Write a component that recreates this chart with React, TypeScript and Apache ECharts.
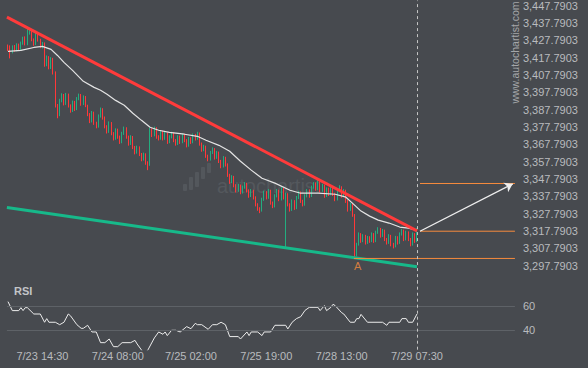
import React, { useEffect, useRef } from 'react';
import * as echarts from 'echarts';

// ---------- data ----------
const OFFSET = 7.7903; // price axis ticks sit at x.7903
const TOTAL_SLOTS = 236; // bars + empty projection area
const timeLabels = ['7/23 14:30', '7/24 08:00', '7/25 02:00', '7/25 19:00', '7/28 13:00', '7/29 07:30'];
const labelBars = [16, 51, 85, 120, 155, 190];
const lastBar = 190;

// [open, close, low, high]
const candles: number[][] = [
  [3424.5, 3422.5, 3421.5, 3425.3], [3424.0, 3421.0, 3417.3, 3424.8], [3421.0, 3424.0, 3420.2, 3424.8], [3424.0, 3422.0, 3421.2, 3425.0],
  [3422.0, 3425.0, 3421.4, 3426.0], [3425.0, 3422.5, 3421.6, 3425.8], [3422.5, 3426.0, 3421.8, 3427.0], [3426.0, 3429.0, 3425.2, 3429.8],
  [3429.0, 3425.5, 3424.8, 3430.0], [3425.5, 3432.0, 3424.9, 3434.6], [3432.0, 3433.0, 3431.0, 3434.2], [3433.0, 3428.0, 3427.2, 3433.8],
  [3428.0, 3425.5, 3424.6, 3428.8], [3425.5, 3431.0, 3425.0, 3432.2], [3431.0, 3428.0, 3427.0, 3431.8], [3428.0, 3424.0, 3423.2, 3428.6],
  [3424.0, 3426.0, 3423.0, 3426.8], [3426.0, 3413.5, 3412.5, 3426.5], [3413.5, 3418.0, 3412.8, 3419.0], [3418.0, 3412.0, 3411.0, 3418.6],
  [3412.0, 3417.0, 3411.2, 3418.0], [3417.0, 3409.0, 3408.0, 3417.6], [3409.0, 3390.0, 3389.0, 3409.8], [3390.0, 3384.5, 3382.8, 3391.0],
  [3384.5, 3393.0, 3384.0, 3394.0], [3393.0, 3396.0, 3392.0, 3397.2], [3396.0, 3391.0, 3390.2, 3396.8], [3391.0, 3396.5, 3390.5, 3397.4],
  [3396.5, 3390.0, 3389.0, 3397.0], [3390.0, 3387.0, 3386.0, 3390.8], [3387.0, 3392.0, 3386.4, 3393.0], [3392.0, 3388.0, 3387.0, 3392.8],
  [3388.0, 3394.0, 3387.5, 3395.0], [3394.0, 3396.0, 3393.2, 3397.0], [3396.0, 3391.0, 3390.0, 3396.8], [3391.0, 3395.0, 3390.4, 3396.0],
  [3395.0, 3390.0, 3389.2, 3395.6], [3390.0, 3385.0, 3384.0, 3390.6], [3385.0, 3381.0, 3380.0, 3385.8], [3381.0, 3386.0, 3380.4, 3387.0],
  [3386.0, 3380.0, 3379.0, 3386.6], [3380.0, 3378.0, 3377.0, 3380.8], [3378.0, 3384.0, 3377.4, 3385.0], [3384.0, 3388.0, 3383.2, 3389.0],
  [3388.0, 3383.0, 3382.0, 3388.6], [3383.0, 3378.0, 3377.0, 3383.8], [3378.0, 3375.0, 3374.0, 3378.8], [3375.0, 3380.0, 3374.4, 3381.0],
  [3380.0, 3374.0, 3373.0, 3380.6], [3374.0, 3371.0, 3370.0, 3374.8], [3371.0, 3376.0, 3370.4, 3377.0], [3376.0, 3372.0, 3371.0, 3376.8],
  [3372.0, 3369.0, 3368.0, 3372.8], [3369.0, 3374.0, 3368.4, 3375.0], [3374.0, 3377.0, 3373.2, 3378.0], [3377.0, 3372.0, 3371.0, 3377.6],
  [3372.0, 3368.0, 3367.0, 3372.8], [3368.0, 3372.0, 3367.4, 3373.0], [3372.0, 3366.0, 3365.0, 3372.6], [3366.0, 3363.0, 3362.0, 3366.8],
  [3363.0, 3366.0, 3362.4, 3367.0], [3366.0, 3362.0, 3361.0, 3366.6], [3362.0, 3359.0, 3358.0, 3362.8], [3359.0, 3362.0, 3358.4, 3363.0],
  [3362.0, 3357.0, 3356.0, 3362.6], [3357.0, 3356.0, 3352.9, 3358.0], [3356.0, 3376.0, 3355.4, 3377.4], [3376.0, 3373.0, 3372.0, 3377.0],
  [3373.0, 3377.0, 3372.4, 3378.0], [3377.0, 3372.0, 3371.0, 3377.6], [3372.0, 3371.0, 3370.0, 3373.0], [3371.0, 3375.0, 3370.4, 3376.0],
  [3375.0, 3371.0, 3370.0, 3375.6], [3371.0, 3374.0, 3370.4, 3375.0], [3374.0, 3369.0, 3368.0, 3374.6], [3369.0, 3372.0, 3368.4, 3373.0],
  [3372.0, 3374.0, 3371.2, 3375.0], [3374.0, 3370.0, 3369.0, 3374.6], [3370.0, 3368.0, 3367.0, 3370.8], [3368.0, 3372.0, 3367.4, 3373.0],
  [3372.0, 3369.0, 3368.0, 3372.8], [3369.0, 3373.0, 3368.4, 3374.0], [3373.0, 3370.0, 3369.0, 3373.8], [3370.0, 3367.0, 3366.0, 3370.8],
  [3367.0, 3371.0, 3366.4, 3372.0], [3371.0, 3369.0, 3368.0, 3371.8], [3369.0, 3373.0, 3368.4, 3374.0], [3373.0, 3371.0, 3370.0, 3373.8],
  [3371.0, 3374.0, 3370.4, 3375.0], [3374.0, 3368.0, 3367.0, 3374.6], [3368.0, 3364.5, 3363.5, 3368.8], [3364.5, 3366.5, 3363.8, 3367.5],
  [3366.5, 3361.0, 3360.0, 3367.0], [3361.0, 3359.0, 3358.0, 3361.8], [3359.0, 3363.0, 3358.4, 3364.0], [3363.0, 3365.0, 3362.2, 3366.0],
  [3365.0, 3360.0, 3359.0, 3365.6], [3360.0, 3363.0, 3359.4, 3364.0], [3363.0, 3358.0, 3357.0, 3363.6], [3358.0, 3355.0, 3354.0, 3358.8],
  [3355.0, 3360.0, 3354.4, 3361.0], [3360.0, 3356.0, 3355.0, 3360.6], [3356.0, 3350.0, 3349.0, 3356.8], [3350.0, 3346.0, 3345.0, 3350.8],
  [3346.0, 3349.0, 3345.4, 3350.0], [3349.0, 3344.0, 3343.0, 3349.6], [3344.0, 3341.0, 3340.0, 3344.8], [3341.0, 3344.0, 3340.4, 3345.0],
  [3344.0, 3340.0, 3339.0, 3344.6], [3340.0, 3343.0, 3339.4, 3344.0], [3343.0, 3345.0, 3342.2, 3346.0], [3345.0, 3341.0, 3340.0, 3345.6],
  [3341.0, 3338.0, 3337.0, 3341.8], [3338.0, 3341.0, 3337.4, 3342.0], [3341.0, 3337.0, 3336.0, 3341.6], [3337.0, 3333.0, 3332.0, 3337.8],
  [3333.0, 3330.5, 3329.5, 3333.8], [3330.5, 3329.5, 3328.1, 3331.5], [3329.5, 3336.0, 3329.0, 3337.0], [3336.0, 3340.0, 3335.2, 3341.0],
  [3340.0, 3337.0, 3336.0, 3340.8], [3337.0, 3341.0, 3336.4, 3342.0], [3341.0, 3334.0, 3333.0, 3341.6], [3334.0, 3332.0, 3331.0, 3334.8],
  [3332.0, 3338.0, 3331.4, 3339.0], [3338.0, 3341.0, 3337.2, 3342.0], [3341.0, 3336.0, 3335.0, 3341.6], [3336.0, 3342.0, 3335.4, 3343.0],
  [3342.0, 3337.0, 3336.0, 3342.6], [3337.0, 3339.0, 3308.6, 3340.0], [3339.0, 3333.0, 3332.0, 3339.6], [3333.0, 3330.0, 3329.0, 3333.8],
  [3330.0, 3335.0, 3329.4, 3336.0], [3335.0, 3331.0, 3330.0, 3335.6], [3331.0, 3337.0, 3330.4, 3338.0], [3337.0, 3340.0, 3336.2, 3341.0],
  [3340.0, 3335.0, 3334.0, 3340.6], [3335.0, 3333.0, 3332.0, 3335.8], [3333.0, 3338.0, 3332.4, 3339.0], [3338.0, 3341.0, 3337.2, 3342.0],
  [3341.0, 3338.0, 3337.0, 3341.8], [3338.0, 3343.0, 3337.4, 3344.0], [3343.0, 3345.0, 3342.2, 3346.0], [3345.0, 3342.0, 3341.0, 3345.8],
  [3342.0, 3346.0, 3341.4, 3347.2], [3346.0, 3341.0, 3340.0, 3346.6], [3341.0, 3344.0, 3340.4, 3345.0], [3344.0, 3338.0, 3337.0, 3344.6],
  [3338.0, 3342.0, 3337.4, 3343.0], [3342.0, 3339.0, 3338.0, 3342.8], [3339.0, 3343.0, 3338.4, 3344.0], [3343.0, 3339.0, 3338.0, 3343.6],
  [3339.0, 3336.0, 3335.0, 3339.8], [3336.0, 3341.0, 3335.4, 3342.0], [3341.0, 3343.0, 3340.2, 3344.2], [3343.0, 3338.0, 3337.0, 3343.6],
  [3338.0, 3341.0, 3337.4, 3342.0], [3341.0, 3335.0, 3334.0, 3341.6], [3335.0, 3330.0, 3329.0, 3335.8], [3330.0, 3333.0, 3329.4, 3334.0],
  [3333.0, 3327.0, 3326.0, 3333.6], [3327.0, 3304.0, 3302.0, 3327.6], [3304.0, 3310.0, 3303.2, 3311.0], [3310.0, 3316.0, 3309.4, 3317.0],
  [3316.0, 3312.0, 3311.0, 3316.6], [3312.0, 3315.0, 3311.4, 3316.0], [3315.0, 3311.0, 3310.0, 3315.6], [3311.0, 3314.0, 3310.4, 3315.0],
  [3314.0, 3312.0, 3311.0, 3314.8], [3312.0, 3316.0, 3311.4, 3317.0], [3316.0, 3312.0, 3311.0, 3316.6], [3312.0, 3317.0, 3311.4, 3318.0],
  [3317.0, 3319.0, 3316.2, 3320.0], [3319.0, 3315.0, 3314.0, 3319.6], [3315.0, 3318.0, 3314.4, 3319.0], [3318.0, 3313.0, 3312.0, 3318.6],
  [3313.0, 3311.0, 3310.0, 3313.8], [3311.0, 3315.0, 3310.4, 3316.0], [3315.0, 3310.0, 3309.0, 3315.6], [3310.0, 3309.0, 3307.8, 3311.0],
  [3309.0, 3314.0, 3308.4, 3315.0], [3314.0, 3311.0, 3310.0, 3314.8], [3311.0, 3316.0, 3310.4, 3317.0], [3316.0, 3318.0, 3315.2, 3319.0],
  [3318.0, 3313.0, 3312.0, 3318.6], [3313.0, 3317.0, 3312.4, 3318.0], [3317.0, 3313.0, 3312.0, 3317.6], [3313.0, 3310.0, 3309.0, 3313.8],
  [3310.0, 3316.0, 3309.4, 3317.0], [3316.0, 3312.0, 3311.0, 3316.6], [3312.0, 3318.0, 3311.4, 3319.5],
];

// moving average [bar, value]
const maKnots: number[][] = [
  [0, 3421.3], [6, 3421.9], [12, 3423.6], [16, 3424.2], [20, 3422.5], [23, 3419.0], [26, 3415.0], [30, 3410.4],
  [35, 3404.1], [40, 3400.6], [43, 3398.9], [46, 3396.6], [50, 3393.1], [54, 3390.3], [58, 3385.7], [62, 3381.6],
  [66, 3377.6], [70, 3375.9], [75, 3374.7], [82, 3373.6], [88, 3372.4], [92, 3370.1], [98, 3367.2], [103, 3363.8],
  [108, 3358.0], [113, 3352.9], [118, 3348.2], [124, 3345.4], [131, 3341.3], [136, 3339.6], [144, 3339.6], [152, 3339.0],
  [157, 3337.3], [160, 3333.9], [164, 3329.3], [168, 3326.4], [172, 3324.1], [177, 3322.4], [182, 3320.1], [186, 3319.5],
  [190, 3318.3],
];

// RSI [bar, value]
const rsiPoints: number[][] = [
  [0, 63.6], [2, 56.2], [5, 56.2], [6, 58.6], [7, 56.2], [8, 58.6], [9, 58.6], [12, 53.4], [15, 53.4], [17, 46.6],
  [18, 49.6], [19, 46.6], [22, 46.6], [24, 44.6], [26, 46.6], [28, 53.4], [29, 52.0], [32, 44.6], [34, 41.6], [35, 41.6],
  [37, 44.1], [39, 38.6], [41, 38.6], [43, 29.8], [45, 29.8], [47, 32.8], [49, 26.5], [51, 26.5], [53, 29.8], [57, 29.8],
  [59, 31.7], [60, 28.7], [62, 23.8], [63, 21.0], [64, 22.0], [65, 23.8], [68, 33.7], [70, 38.6], [72, 36.7], [73, 38.6],
  [74, 35.6], [76, 40.0], [78, 40.0], [80, 38.6], [83, 43.0], [85, 41.3], [87, 45.7], [88, 44.6], [90, 44.6], [93, 40.8],
  [95, 44.6], [97, 44.6], [99, 46.6], [101, 44.6], [103, 34.8], [107, 34.8], [108, 32.8], [111, 38.6], [112, 35.6], [113, 38.6],
  [116, 38.6], [118, 35.6], [119, 38.6], [122, 38.6], [124, 44.1], [129, 44.1], [130, 41.1], [132, 46.6], [134, 49.6], [136, 51.2],
  [138, 56.4], [140, 58.9], [144, 58.9], [145, 56.2], [147, 60.3], [148, 56.2], [150, 58.9], [151, 61.4], [152, 60.3], [155, 54.5],
  [156, 53.4], [159, 46.6], [161, 46.6], [162, 49.6], [163, 49.6], [164, 53.1], [167, 46.6], [174, 46.6], [176, 44.1], [177, 46.6],
  [182, 46.6], [183, 49.6], [185, 49.6], [186, 46.6], [188, 46.6], [190, 53.4],
];
const rsiLevels = [60, 40];

const resistanceLine = [[-0.5, 3441.1], [190, 3317.9]];
const supportLine = [[-0.5, 3331.4], [190, 3297.2]];
const targetLevel = 3345.2;
const breakoutLevel = 3317.7;
const pointALevel = 3302.0;
const pointABar = 162.5;
const breakoutBar = 191.4;
const pointAStartBar = 160.7;
const arrowFrom = [191.4, 3317.7];
const arrowTo = [234.5, 3345.0];

// ---------- styles ----------
const BG = '#474a4f';
const UP = '#23ad7f';
const DOWN = '#ff3838';
const RED_LINE = '#ff3b3b';
const GREEN_LINE = '#17b98a';
const ORANGE = '#f68b3d';
const LABEL = '#b9bbbe';
const FONT = '"Liberation Sans", Arial, sans-serif';

const sh = (v: number) => v - OFFSET;

export default function App() {
  const ref = useRef<HTMLDivElement>(null);

  useEffect(() => {
    if (!ref.current) return;
    const chart = echarts.init(ref.current, undefined, { renderer: 'svg' });

    const cats = Array.from({ length: TOTAL_SLOTS }, (_, i) => String(i));
    const xMax = TOTAL_SLOTS - 0.5;

    const option: any = {
      animation: false,
      backgroundColor: BG,
      textStyle: { fontFamily: FONT },
      grid: [
        { left: 6.92, width: 508, top: 0, height: 283.1 },
        { left: 6.92, width: 508, top: 281.7, height: 68 },
      ],
      xAxis: [
        { type: 'category', gridIndex: 0, data: cats, boundaryGap: true, show: false },
        { type: 'value', gridIndex: 0, min: -0.5, max: xMax, show: false },
        {
          type: 'category', gridIndex: 1, data: cats, boundaryGap: true,
          axisLine: { show: false }, axisTick: { show: false }, splitLine: { show: false },
          axisLabel: {
            interval: (i: number) => labelBars.includes(i),
            formatter: (_v: string, i: number) => {
              const k = labelBars.indexOf(i);
              return k >= 0 ? timeLabels[k] : '';
            },
            color: LABEL, fontSize: 11, margin: 1, fontFamily: FONT,
          },
        },
        { type: 'value', gridIndex: 1, min: -0.5, max: xMax, show: false },
      ],
      yAxis: [
        {
          type: 'value', gridIndex: 0, position: 'right', min: 3280, max: 3442.877, interval: 10,
          axisLine: { show: false }, axisTick: { show: false }, splitLine: { show: false },
          axisLabel: {
            color: LABEL, fontSize: 11, margin: 8, fontFamily: FONT,
            showMinLabel: false, showMaxLabel: false,
            formatter: (v: number) =>
              (v + OFFSET).toLocaleString('en-US', { minimumFractionDigits: 4, maximumFractionDigits: 4 }),
          },
        },
        { type: 'value', gridIndex: 1, min: 24, max: 80, show: false },
      ],
      graphic: [
        {
          type: 'text', x: 515.3, y: 52.5, rotation: Math.PI / 2, z: 1,
          style: { text: 'www.autochartist.com', fill: '#a4a6a9', fontSize: 10.5, fontFamily: FONT, align: 'center', verticalAlign: 'middle' },
        },
        { type: 'rect', shape: { x: 183, y: 184, width: 4, height: 7, r: 1 }, style: { fill: '#53575c' } },
        { type: 'rect', shape: { x: 189, y: 177, width: 4, height: 13, r: 1 }, style: { fill: '#53575c' } },
        { type: 'rect', shape: { x: 195, y: 172, width: 4, height: 15, r: 1 }, style: { fill: '#53575c' } },
        { type: 'rect', shape: { x: 201, y: 167, width: 4, height: 12, r: 1 }, style: { fill: '#53575c' } },
        { type: 'rect', shape: { x: 207, y: 163, width: 4, height: 10, r: 1 }, style: { fill: '#53575c' } },
        {
          type: 'text', x: 217, y: 186,
          style: { text: 'autochartist', fill: '#54585d', fontSize: 20, fontFamily: FONT, align: 'left', verticalAlign: 'middle' },
        },
        {
          type: 'text', x: 14, y: 291,
          style: { text: 'RSI', fill: '#c3c5c8', fontSize: 11, fontWeight: 'bold', fontFamily: FONT, align: 'left', verticalAlign: 'middle' },
        },
      ],
      series: [
        {
          type: 'candlestick', xAxisIndex: 0, yAxisIndex: 0,
          data: candles.map((c) => c.map(sh)),
          barWidth: 1,
          itemStyle: { color: UP, color0: DOWN, borderColor: UP, borderColor0: DOWN, borderWidth: 1 },
          silent: true,
        },
        {
          type: 'line', xAxisIndex: 1, yAxisIndex: 0, name: 'ma',
          data: maKnots.map(([x, v]) => [x, sh(v)]),
          symbol: 'none', lineStyle: { color: '#e4e4e4', width: 1.2 }, silent: true,
          markLine: {
            silent: true, symbol: 'none', label: { show: false },
            lineStyle: { color: '#c4c4c4', width: 1, type: [3, 3] },
            data: [{ xAxis: lastBar }],
          },
        },
        {
          type: 'line', xAxisIndex: 1, yAxisIndex: 0,
          data: supportLine.map(([x, v]) => [x, sh(v)]),
          symbol: 'none', lineStyle: { color: GREEN_LINE, width: 3 }, silent: true,
        },
        {
          type: 'line', xAxisIndex: 1, yAxisIndex: 0,
          data: resistanceLine.map(([x, v]) => [x, sh(v)]),
          symbol: 'none', lineStyle: { color: RED_LINE, width: 3 }, silent: true,
        },
        {
          type: 'line', xAxisIndex: 1, yAxisIndex: 0,
          data: [[breakoutBar, sh(targetLevel)], [xMax, sh(targetLevel)]],
          symbol: 'none', lineStyle: { color: ORANGE, width: 1 }, silent: true,
        },
        {
          type: 'line', xAxisIndex: 1, yAxisIndex: 0,
          data: [[breakoutBar, sh(breakoutLevel)], [xMax, sh(breakoutLevel)]],
          symbol: 'none', lineStyle: { color: ORANGE, width: 1 }, silent: true,
        },
        {
          type: 'line', xAxisIndex: 1, yAxisIndex: 0,
          data: [[pointAStartBar, sh(pointALevel)], [xMax, sh(pointALevel)]],
          symbol: 'none', lineStyle: { color: ORANGE, width: 1 }, silent: true,
        },
        {
          type: 'scatter', xAxisIndex: 1, yAxisIndex: 0,
          data: [[pointABar, sh(pointALevel)]],
          symbolSize: 0, silent: true,
          label: { show: true, formatter: 'A', position: 'bottom', distance: 2, color: ORANGE, fontSize: 11, fontFamily: FONT },
          markLine: {
            silent: true, symbol: ['none', 'arrow'], symbolSize: 8, label: { show: false },
            lineStyle: { color: '#efefef', width: 1.3, type: 'solid' },
            data: [[{ coord: [arrowFrom[0], sh(arrowFrom[1])] }, { coord: [arrowTo[0], sh(arrowTo[1])] }]],
          },
        },
        {
          type: 'line', xAxisIndex: 3, yAxisIndex: 1,
          data: rsiPoints,
          symbol: 'none', lineStyle: { color: '#ececec', width: 1 }, silent: true,
          markLine: {
            silent: true, symbol: 'none',
            lineStyle: { color: '#5e6267', width: 1, type: 'solid' },
            label: { show: true, position: 'end', distance: 8, formatter: '{c}', color: LABEL, fontSize: 11, fontFamily: FONT },
            data: [
              ...rsiLevels.map((v) => ({ yAxis: v })),
              { xAxis: lastBar, label: { show: false }, lineStyle: { color: '#c4c4c4', width: 1, type: [3, 3] } },
            ],
          },
        },
      ],
    };

    chart.setOption(option);
    return () => chart.dispose();
  }, []);

  return <div ref={ref} style={{ position: 'absolute', left: 0, top: 0, width: 588, height: 368 }} />;
}
